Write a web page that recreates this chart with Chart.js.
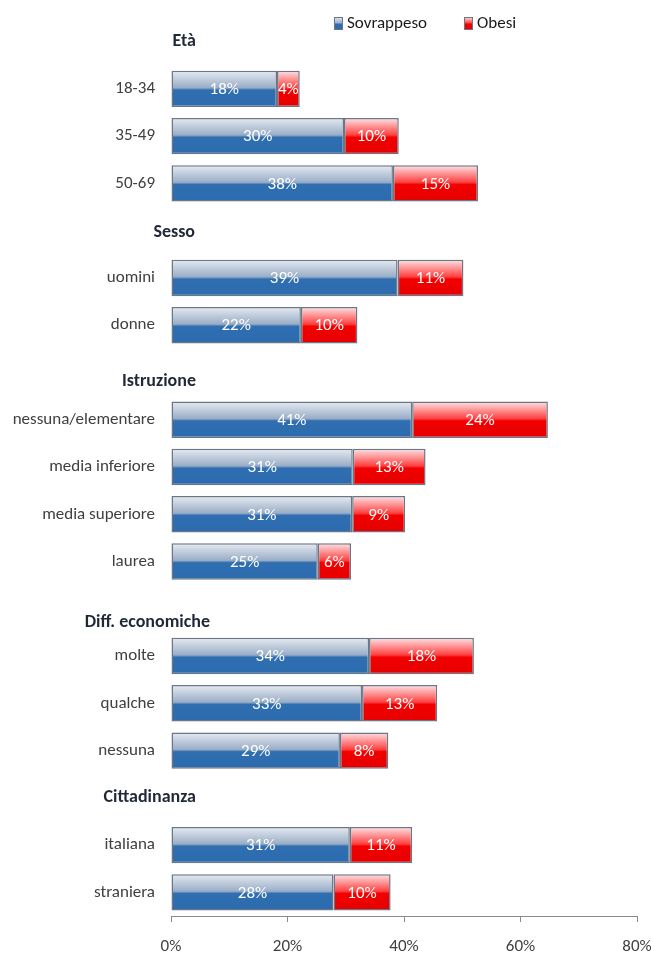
<!DOCTYPE html>
<html>
<head>
<meta charset="utf-8">
<script src="https://cdn.jsdelivr.net/npm/chart.js@4.4.1/dist/chart.umd.min.js"></script>
<style>
  body { margin: 0; background: #fff; }
  #box { position: relative; width: 651px; height: 954px; }
</style>
</head>
<body>
<div id="box"><canvas id="graficoPeso"></canvas></div>
<script>
const categorie = ['Età', '18-34', '35-49', '50-69', 'Sesso', 'uomini', 'donne',
  'Istruzione', 'nessuna/elementare', 'media inferiore', 'media superiore', 'laurea',
  'Diff. economiche', 'molte', 'qualche', 'nessuna', 'Cittadinanza', 'italiana', 'straniera'];
const intestazioni = ['Età', 'Sesso', 'Istruzione', 'Diff. economiche', 'Cittadinanza'];

const sovrappeso = [null, 18.2, 29.7, 38.1, null, 38.9, 22.3, null, 41.4, 31.2, 31.1, 25.2, null, 34.0, 32.8, 29.0, null, 30.7, 27.9];
const obesi = [null, 3.9, 9.4, 14.6, null, 11.3, 9.7, null, 23.3, 12.5, 9.1, 5.7, null, 18.0, 12.9, 8.3, null, 10.7, 9.8];

// percentuali stampate sulle barre
const etichetteSovrappeso = [null, 18, 30, 38, null, 39, 22, null, 41, 31, 31, 25, null, 34, 33, 29, null, 31, 28];
const etichetteObesi = [null, 4, 10, 15, null, 11, 10, null, 24, 13, 9, 6, null, 18, 13, 8, null, 11, 10];

const FONT = 'Carlito, "Liberation Sans Narrow", Lato, "Open Sans", sans-serif';
const GRIGIO = '#404040';

function sfumatura(chart, index, colori) {
  const area = chart.chartArea;
  if (!area) return colori[2];
  const y = chart.scales.y;
  const passo = (area.bottom - area.top) / categorie.length;
  const meta = passo * 0.77 / 2;
  const yc = y.getPixelForValue(index);
  const g = chart.ctx.createLinearGradient(0, yc - meta, 0, yc + meta);
  g.addColorStop(0, colori[0]);
  g.addColorStop(0.47, colori[1]);
  g.addColorStop(0.53, colori[2]);
  g.addColorStop(1, colori[3]);
  return g;
}

const coloriBlu = ['#e6ebf2', '#9aadc6', '#2f6fb1', '#2c6cae'];
const coloriRosso = ['#fde4e6', '#ff4040', '#f20000', '#e60000'];

// etichette bianche dentro le barre
const pluginEtichette = {
  id: 'etichette',
  afterDatasetsDraw(chart) {
    const ctx = chart.ctx;
    const testi = [etichetteSovrappeso, etichetteObesi];
    ctx.save();
    ctx.font = '17px ' + FONT;
    ctx.fillStyle = '#ffffff';
    ctx.textAlign = 'center';
    ctx.textBaseline = 'middle';
    chart.data.datasets.forEach(function (ds, i) {
      chart.getDatasetMeta(i).data.forEach(function (barra, j) {
        if (testi[i][j] == null) return;
        ctx.fillText(testi[i][j] + '%', (barra.x + barra.base) / 2, barra.y + 1);
      });
    });
    ctx.restore();
  }
};

// titoli dei gruppi e legenda
const pluginTitoli = {
  id: 'titoli',
  afterDraw(chart) {
    const ctx = chart.ctx;
    const area = chart.chartArea;
    const y = chart.scales.y;
    // [spostamento a destra del bordo sinistro del grafico, spostamento verticale]
    const posizioni = { 'Età': [25, 0], 'Sesso': [24, 2], 'Istruzione': [25, 9], 'Diff. economiche': [39, 14], 'Cittadinanza': [25, 0] };
    ctx.save();
    ctx.font = 'bold 18px ' + FONT;
    ctx.fillStyle = '#1f2937';
    ctx.textAlign = 'right';
    ctx.textBaseline = 'middle';
    intestazioni.forEach(function (t) {
      const p = posizioni[t];
      ctx.fillText(t, area.left + p[0], y.getPixelForValue(categorie.indexOf(t)) + p[1]);
    });

    // legenda
    const voci = [[chart.data.datasets[0].label, coloriBlu, 334], [chart.data.datasets[1].label, coloriRosso, 464]];
    ctx.font = '17px ' + FONT;
    ctx.textAlign = 'left';
    voci.forEach(function (v) {
      const g = ctx.createLinearGradient(0, 17, 0, 30);
      g.addColorStop(0, v[1][0]);
      g.addColorStop(0.47, v[1][1]);
      g.addColorStop(0.53, v[1][2]);
      g.addColorStop(1, v[1][3]);
      ctx.fillStyle = g;
      ctx.fillRect(v[2], 17, 9, 13);
      ctx.strokeStyle = '#6b7686';
      ctx.lineWidth = 1;
      ctx.strokeRect(v[2] + 0.5, 17.5, 8, 12);
      ctx.fillStyle = '#1a1a1a';
      ctx.fillText(v[0], v[2] + 13, 24);
    });
    ctx.restore();
  }
};

const graficoPeso = document.getElementById('graficoPeso');

let findGraficoPeso = new Chart(graficoPeso, {
  type: 'bar',
  data: {
    labels: categorie,
    datasets: [
      {
        label: 'Sovrappeso',
        data: sovrappeso,
        backgroundColor: function (c) { return sfumatura(c.chart, c.dataIndex, coloriBlu); },
        borderColor: '#6b7686',
        borderWidth: 1.5,
        borderSkipped: false,
      },
      {
        label: 'Obesi',
        data: obesi,
        backgroundColor: function (c) { return sfumatura(c.chart, c.dataIndex, coloriRosso); },
        borderColor: '#6b7686',
        borderWidth: 1.5,
        borderSkipped: false,
      }
    ]
  },
  options: {
    indexAxis: 'y',
    responsive: true,
    maintainAspectRatio: false,
    animation: false,
    categoryPercentage: 1,
    barPercentage: 0.77,
    layout: { padding: { top: 18, right: 0, left: 0, bottom: 0 } },
    plugins: {
      legend: { display: false },
      tooltip: { enabled: false }
    },
    scales: {
      x: {
        stacked: true,
        min: 0,
        max: 80,
        grid: { drawOnChartArea: false, drawTicks: true, tickLength: 6, color: '#8a8a8a' },
        border: { display: true, color: '#8a8a8a' },
        ticks: {
          stepSize: 20,
          padding: 15,
          color: GRIGIO,
          font: { family: FONT, size: 17 },
          callback: function (v) { return v + '%'; }
        },
        afterFit: function (s) {
          s.height = 38;
          s.paddingLeft = 0;
          s.paddingRight = 14;
        }
      },
      y: {
        stacked: true,
        offset: true,
        grid: { display: false, drawTicks: false },
        border: { display: false },
        ticks: {
          padding: 16,
          color: GRIGIO,
          font: { family: FONT, size: 17 },
          autoSkip: false,
          callback: function (v, i) { return intestazioni.includes(categorie[i]) ? '' : categorie[i]; }
        },
        afterFit: function (s) {
          s.width = 171;
          s.paddingTop = 0;
          s.paddingBottom = 0;
        }
      }
    }
  },
  plugins: [pluginEtichette, pluginTitoli]
});
</script>
</body>
</html>
